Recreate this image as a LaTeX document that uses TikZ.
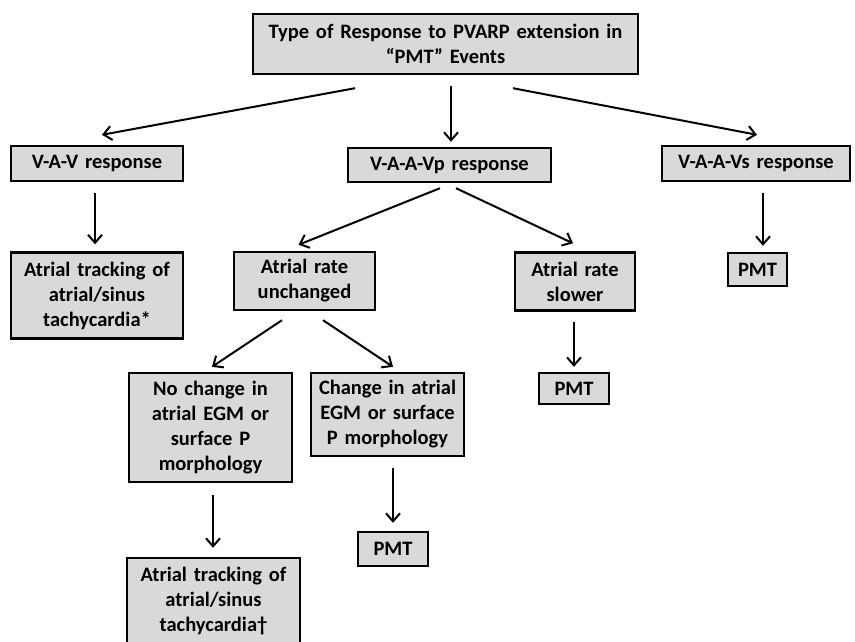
\documentclass[tikz,border=0pt]{standalone}
\usepackage{fontspec}
\setmainfont{Carlito}
\usetikzlibrary{arrows.meta,calc}
\definecolor{boxgray}{HTML}{D9D9D9}
\begin{document}
\begin{tikzpicture}[x=1pt,y=-1pt,
  box/.style={draw=black, line width=2.4pt, fill=boxgray, align=center, inner sep=0pt,
    font=\fontsize{20.5}{25}\selectfont\bfseries},
  arr/.style={line width=2pt, -{Straight Barb[length=8pt,width=14pt]}}]
\useasboundingbox (0,0) rectangle (855,641);
% nodes
\node[box, minimum width=385, minimum height=60, text width=380] (top) at (445.5,44) {Type of Response to PVARP extension in\\“PMT” Events};
\node[box, minimum width=172, minimum height=35, text width=165] (vav) at (97,163.5) {V-A-V response};
\node[box, minimum width=203, minimum height=34, text width=195] (vp) at (449.5,165) {V-A-A-Vp response};
\node[box, minimum width=188, minimum height=35, text width=180] (vs) at (756,163.5) {V-A-A-Vs response};
\node[box, minimum width=172, minimum height=86, text width=165] (at1) at (97,295.5) {Atrial tracking of\\atrial/sinus\\tachycardia*};
\node[box, minimum width=141, minimum height=58, text width=135] (unch) at (304.5,281) {Atrial rate\\unchanged};
\node[box, minimum width=120, minimum height=58, text width=115] (slow) at (575,281.5) {Atrial rate\\slower};
\node[box, minimum width=59, minimum height=33, text width=55] (pmtR) at (757.5,269.5) {PMT};
\node[box, minimum width=163, minimum height=109, text width=155] (noch) at (210.5,427.5) {No change in\\atrial EGM or\\surface P\\morphology};
\node[box, minimum width=153, minimum height=83, text width=148] (chg) at (387.5,414.5) {Change in atrial\\EGM or surface\\P morphology};
\node[box, minimum width=70, minimum height=34, text width=65] (pmtM) at (393,549) {PMT};
\node[box, minimum width=70, minimum height=31, text width=65] (pmtS) at (574,388.5) {PMT};
\node[box, minimum width=173, minimum height=86, text width=165] (at2) at (213.5,601) {Atrial tracking of\\atrial/sinus\\tachycardia†};
% connectors
\draw[arr] ($(top.south)+(-90.5,13)$) -- ($(vav.north)+(5,-10)$);
\draw[arr] ($(top.south)+(5.5,11)$) -- ($(vp.north)+(1.5,-5)$);
\draw[arr] ($(top.south)+(67.5,13)$) -- ($(vs.north)+(1,-10)$);
\draw[arr] ($(vav.south)+(-2,11)$) -- ($(at1.north)+(-2,-7)$);
\draw[arr] ($(vs.south)+(7,11)$) -- ($(pmtR.north)+(5.5,-6)$);
\draw[arr] ($(vp.south)+(-9.5,5)$) -- ($(unch.north)+(-6,-6)$);
\draw[arr] ($(vp.south)+(6.5,5)$) -- ($(slow.north)+(-2,-8)$);
\draw[arr] ($(unch.south)+(-22.5,9)$) -- ($(noch.north)+(1.5,-5)$);
\draw[arr] ($(unch.south)+(18.5,9)$) -- ($(chg.north)+(5.5,-5)$);
\draw[arr] ($(slow.south)+(-1,10)$) -- ($(pmtS.north)+(0,-5)$);
\draw[arr] ($(chg.south)+(5.5,11)$) -- ($(pmtM.north)+(0,-8)$);
\draw[arr] ($(noch.south)+(2.5,12)$) -- ($(at2.north)+(-0.5,-9)$);
\end{tikzpicture}
\end{document}
